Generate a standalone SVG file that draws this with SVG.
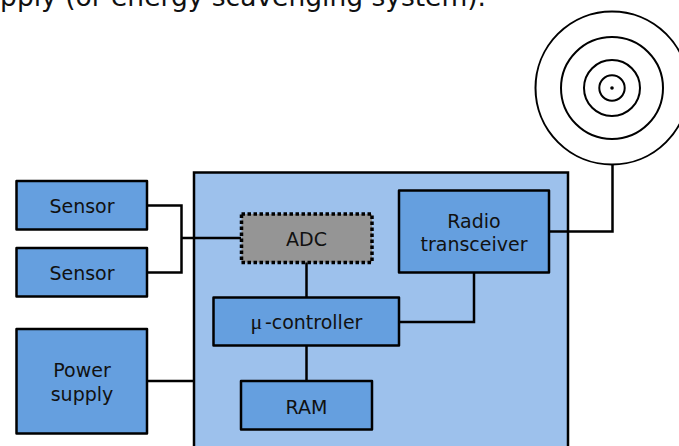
<svg xmlns="http://www.w3.org/2000/svg" width="679" height="446" viewBox="0 0 679 446">
<style>
.n{fill:#659fdf;stroke:#000;stroke-width:2.5;stroke-linejoin:round}
.t{font-family:"DejaVu Sans",Verdana,sans-serif;font-size:19px;fill:#111;text-anchor:middle}
.c{fill:none;stroke:#000;stroke-width:2.5}
.r{fill:none;stroke:#000;stroke-width:2}
</style>
<rect width="679" height="446" fill="#fff"/>
<text x="486" y="5.500" font-family="'DejaVu Sans',Verdana,sans-serif" font-size="26.500" fill="#111" text-anchor="end">pply (or energy scavenging system).</text>
<g id="panel"><rect x="194" y="172.500" width="374" height="290" fill="#9dc1ec" stroke="#000" stroke-width="2.500"/></g>
<g id="connectors">
<path class="c" d="M147 205.500H181.500V272.500H147M181.500 238H241"/>
<path class="c" d="M147 381H194"/>
<path class="c" d="M306.500 262V297.500M306.500 345.500V381"/>
<path class="c" d="M399 322H474V272.500"/>
<path class="c" d="M549 231.500H612.500V164"/>
</g>
<g id="antenna">
<circle class="r" cx="612" cy="88" r="76.500"/>
<circle class="r" cx="612" cy="88" r="51"/>
<circle class="r" cx="612" cy="88" r="28"/>
<circle class="r" cx="612" cy="88" r="12.700"/>
<circle cx="612" cy="88" r="1.800" fill="#000"/>
</g>
<g id="sensor1"><rect class="n" x="16.500" y="181" width="130.500" height="48.500"/><text class="t" x="82" y="212.500">Sensor</text></g>
<g id="sensor2"><rect class="n" x="16.500" y="248" width="130.500" height="48.500"/><text class="t" x="82" y="279.500">Sensor</text></g>
<g id="power"><rect class="n" x="16.500" y="329" width="130.500" height="104.500"/><text class="t" x="82" y="377">Power</text><text class="t" x="82" y="401">supply</text></g>
<g id="adc"><rect x="241.500" y="214" width="130.500" height="48.500" fill="#959595" stroke="#000" stroke-width="3.500" stroke-dasharray="3.500 2.500"/><text class="t" x="306.500" y="245.500">ADC</text></g>
<g id="radio"><rect class="n" x="399" y="190.500" width="150" height="82"/><text class="t" x="474" y="228">Radio</text><text class="t" x="474" y="251">transceiver</text></g>
<g id="mcu"><rect class="n" x="213.500" y="297.500" width="185.500" height="48"/><text class="t" x="306.500" y="329"><tspan font-family="'Liberation Serif',serif" font-size="22" letter-spacing="2.500">μ</tspan>-controller</text></g>
<g id="ram"><rect class="n" x="241" y="381" width="131" height="48.500"/><text class="t" x="306.500" y="413.500">RAM</text></g>
</svg>
